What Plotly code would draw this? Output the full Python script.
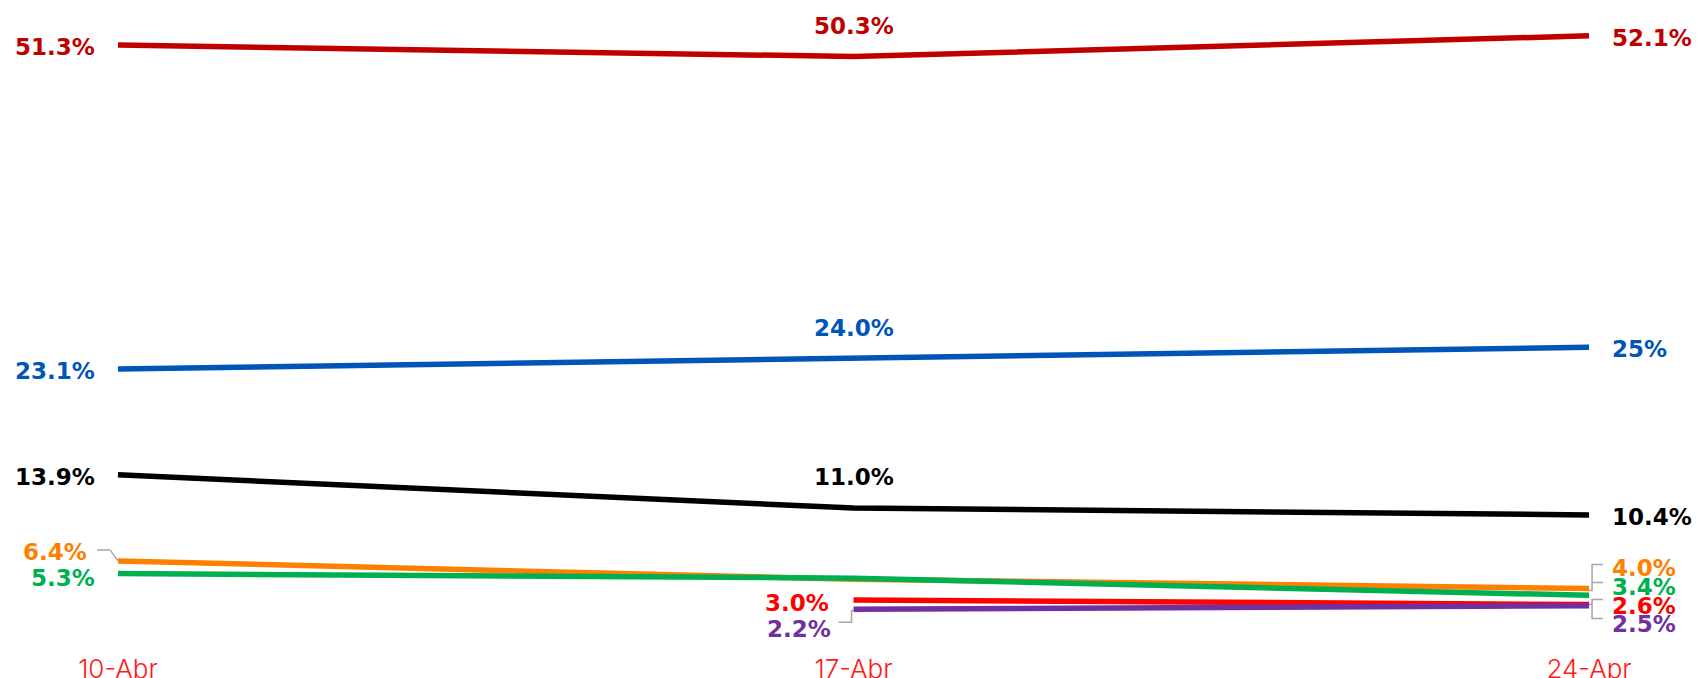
import plotly.graph_objects as go

dates = ["10-Abr", "17-Abr", "24-Apr"]
s_darkred = [51.3, 50.3, 52.1]
s_blue = [23.1, 24.0, 25.0]
s_black = [13.9, 11.0, 10.4]
s_orange = [6.4, 4.8, 4.0]
s_green = [5.3, 4.9, 3.4]
s_red = [None, 3.0, 2.6]
s_purple = [None, 2.2, 2.5]

labels_darkred = ["51.3%", "50.3%", "52.1%"]
labels_blue = ["23.1%", "24.0%", "25%"]
labels_black = ["13.9%", "11.0%", "10.4%"]
labels_orange = ["6.4%", None, "4.0%"]
labels_green = ["5.3%", None, "3.4%"]
labels_red = [None, "3.0%", "2.6%"]
labels_purple = [None, "2.2%", "2.5%"]

series = [
    (s_orange, labels_orange, "#FF8000"),
    (s_green, labels_green, "#00B050"),
    (s_black, labels_black, "#000000"),
    (s_blue, labels_blue, "#0055B8"),
    (s_darkred, labels_darkred, "#C00000"),
    (s_red, labels_red, "#FF0000"),
    (s_purple, labels_purple, "#7030A0"),
]

xs = list(range(len(dates)))
fig = go.Figure()
for vals, labs, col in series:
    fig.add_trace(go.Scatter(x=xs, y=vals, mode="lines",
                             line=dict(color=col, width=5.5),
                             connectgaps=False, hoverinfo="skip",
                             showlegend=False))

# label placement: (xshift, yshift, xanchor) per position
default_pos = {0: (-22, -2, "right"), 1: (0, 31, "center"), 2: (22, -2, "left")}
special = {
    ("#FF8000", 0): (-30, 9, "right"),
    ("#00B050", 0): (-22, -4, "right"),
    ("#FF8000", 2): (22, 21, "left"),
    ("#00B050", 2): (22, 9, "left"),
    ("#FF0000", 2): (22, -1, "left"),
    ("#7030A0", 2): (22, -18, "left"),
    ("#FF0000", 1): (-24, -3, "right"),
    ("#7030A0", 1): (-22, -19, "right"),
}
tight = {("#FF8000", 2), ("#00B050", 2), ("#FF0000", 2), ("#7030A0", 2),
         ("#FF0000", 1), ("#7030A0", 1), ("#FF8000", 0), ("#00B050", 0)}

annotations = []
for vals, labs, col in series:
    for i, (v, t) in enumerate(zip(vals, labs)):
        if v is None or t is None:
            continue
        xsft, ysft, xa = special.get((col, i), default_pos[i])
        ann = dict(
            x=xs[i], y=v, xref="x", yref="y", text=t, showarrow=False,
            xanchor=xa, yanchor="middle", xshift=xsft, yshift=ysft,
            borderpad=0,
            font=dict(family="DejaVu Sans", size=23, color=col, weight="bold"))
        if (col, i) in tight:
            ann["height"] = 17
        annotations.append(ann)

gray = "#A6A6A6"
shapes = [
    dict(type="path", xref="x", yref="y", xsizemode="pixel", ysizemode="pixel",
         xanchor=xs[0], yanchor=s_orange[0], path="M 0 0 L -8 11 L -21 11",
         line=dict(color=gray, width=1.5)),
    dict(type="path", xref="x", yref="y", xsizemode="pixel", ysizemode="pixel",
         xanchor=xs[1], yanchor=s_purple[1], path="M 0 0 L -2 -2 L -2 -13 L -15 -13",
         line=dict(color=gray, width=1.5)),
    dict(type="path", xref="x", yref="y", xsizemode="pixel", ysizemode="pixel",
         xanchor=xs[2], yanchor=s_orange[2],
         path="M 0 -2 L 3 -2 L 3 24 L 14 24 M 3 6 L 14 6",
         line=dict(color=gray, width=1.5)),
    dict(type="path", xref="x", yref="y", xsizemode="pixel", ysizemode="pixel",
         xanchor=xs[2], yanchor=s_red[2],
         path="M 0 0 L 3 0 L 3 5 L 14 5 M 3 0 L 3 -14 L 14 -14",
         line=dict(color=gray, width=1.5)),
]

fig.update_layout(
    width=1706, height=678,
    margin=dict(l=0, r=0, t=0, b=40),
    paper_bgcolor="white", plot_bgcolor="white",
    annotations=annotations, shapes=shapes,
    xaxis=dict(range=[-0.1604, 2.159], tickvals=xs, ticktext=dates,
               showgrid=False, zeroline=False, showline=False, automargin=False,
               ticks="outside", ticklen=8, tickcolor="white",
               tickfont=dict(family="Inter", size=26, color="#FF1A1A", weight=300)),
    yaxis=dict(range=[-0.31, 55.22], showgrid=False, zeroline=False,
               showline=False, showticklabels=False, automargin=False),
)

fig.write_html("out.html", config={"displayModeBar": False},
               post_script="document.body.style.margin='0';document.body.style.overflow='hidden';")
